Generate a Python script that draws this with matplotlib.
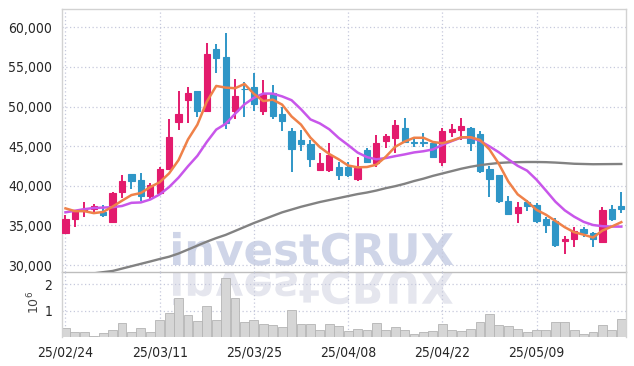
import matplotlib
matplotlib.use("Agg")
import matplotlib.pyplot as plt
import numpy as np
from matplotlib import font_manager as fm
from matplotlib.textpath import TextPath
from matplotlib.patches import PathPatch
from matplotlib.font_manager import FontProperties
from matplotlib.transforms import Affine2D, IdentityTransform

# trading days (yy/mm/dd)
dates = ["25/02/24", "25/02/25", "25/02/26", "25/02/27", "25/02/28", "25/03/04", "25/03/05", "25/03/06", "25/03/07", "25/03/10",
         "25/03/11", "25/03/12", "25/03/13", "25/03/14", "25/03/17", "25/03/18", "25/03/19", "25/03/20", "25/03/21", "25/03/24",
         "25/03/25", "25/03/26", "25/03/27", "25/03/28", "25/03/31", "25/04/01", "25/04/02", "25/04/03", "25/04/04", "25/04/07",
         "25/04/08", "25/04/09", "25/04/10", "25/04/11", "25/04/14", "25/04/15", "25/04/16", "25/04/17", "25/04/18", "25/04/21",
         "25/04/22", "25/04/23", "25/04/24", "25/04/25", "25/04/28", "25/04/29", "25/04/30", "25/05/02", "25/05/07", "25/05/08",
         "25/05/09", "25/05/12", "25/05/13", "25/05/14", "25/05/15", "25/05/16", "25/05/19", "25/05/20", "25/05/21", "25/05/22"]

opens = [34000, 35750, 36800, 37110, 36730, 35470, 39250, 41490, 40730, 38750,
         39050, 42070, 48090, 50820, 51960, 49400, 57260, 56250, 49480, 52200,
         52470, 49480, 51700, 49060, 46910, 45780, 45310, 42030, 41950, 42410,
         42410, 40900, 44510, 42830, 45690, 45990, 47330, 45480, 45480, 45360,
         43040, 46830, 47040, 47330, 46530, 42070, 41360, 38080, 36520, 37990,
         37570, 35810, 35550, 33030, 33280, 34540, 34000, 32950, 37070, 37450]
highs = [36300, 37000, 38000, 37700, 37570, 39200, 41350, 41500, 41570, 40390,
         42400, 48400, 52000, 52420, 51960, 58000, 57850, 59240, 53430, 53050,
         54190, 53300, 52720, 49980, 47250, 47040, 45780, 44090, 45440, 43040,
         43040, 43670, 44810, 46410, 46530, 48300, 48510, 46000, 46620, 45500,
         47250, 47800, 48510, 47460, 46910, 42540, 41360, 38710, 37990, 38200,
         37780, 36020, 35930, 33660, 34750, 34750, 34200, 37280, 37570, 39260]
lows = [34000, 34750, 36000, 36450, 36020, 35400, 38400, 39550, 38080, 38200,
        39000, 42000, 47100, 47880, 48720, 49300, 54190, 47120, 48470, 48720,
        49390, 48970, 48380, 46870, 41780, 44430, 42410, 41900, 41780, 40730,
        41060, 40560, 42830, 42330, 44720, 44180, 45570, 44850, 44940, 43590,
        42540, 46110, 45780, 44390, 41570, 38540, 37870, 36310, 35260, 36860,
        35260, 34080, 32310, 31350, 32310, 33490, 32310, 32950, 35600, 36520]
closes = [35800, 36800, 37100, 37450, 36310, 39130, 40600, 40640, 38750, 40100,
          42150, 46200, 49015, 51710, 49480, 56630, 56170, 47960, 51330, 52170,
          50360, 51620, 48850, 48220, 44680, 45230, 43420, 42830, 43880, 41320,
          41360, 42240, 43040, 45360, 46280, 47670, 45570, 45400, 45400, 43590,
          46910, 47160, 47540, 45440, 41900, 40900, 38080, 36440, 37280, 37450,
          35550, 35050, 32520, 33280, 34290, 34000, 33240, 36940, 35810, 37070]

ma5 = [37150, 36800, 36800, 36550, 36700, 37370, 38120, 38830, 39090, 39840,
       40450, 41570, 43240, 45840, 47710, 50610, 52600, 52390, 52310, 52850,
       51600, 50690, 50870, 50240, 48750, 47720, 46080, 44880, 44010, 43340,
       42560, 42330, 42370, 42660, 43660, 44920, 45580, 46060, 46060, 45530,
       45370, 45690, 46120, 46130, 45790, 44590, 42770, 40550, 38920, 38030,
       36960, 36350, 35570, 34770, 34140, 33830, 33470, 34350, 34860, 35410]
ma10 = [36650, 36850, 37050, 37200, 37250, 37300, 37450, 37850, 37900, 38270,
        38910, 39840, 41030, 42460, 43780, 45530, 47090, 47820, 49080, 50280,
        51100, 51640, 51630, 51280, 50800, 49660, 48380, 47870, 47130, 46040,
        45140, 44200, 43620, 43340, 43500, 43740, 43960, 44210, 44360, 44590,
        45150, 45640, 46090, 46100, 45660, 44980, 44230, 43340, 42520, 41910,
        40770, 39400, 38000, 36900, 36100, 35450, 35050, 34900, 34850, 34850]
ma_long = [28500, 28650, 28800, 28950, 29100, 29250, 29550, 29850, 30150, 30450,
           30760, 31050, 31450, 31950, 32450, 32950, 33400, 33800, 34300, 34800,
           35300, 35750, 36200, 36650, 37000, 37350, 37650, 37950, 38200, 38450,
           38700, 38950, 39150, 39400, 39700, 39950, 40250, 40600, 40900, 41250,
           41550, 41850, 42150, 42400, 42600, 42750, 42880, 42950, 42980, 43000,
           43000, 42980, 42930, 42860, 42780, 42750, 42720, 42730, 42740, 42750]

volume_m = [0.36, 0.18, 0.18, 0.05, 0.14, 0.28, 0.52, 0.18, 0.36, 0.18,
            0.66, 0.92, 1.49, 0.85, 0.62, 1.17, 0.66, 2.24, 1.49, 0.58,
            0.66, 0.51, 0.44, 0.39, 1.04, 0.48, 0.48, 0.28, 0.48, 0.40,
            0.22, 0.32, 0.25, 0.52, 0.25, 0.39, 0.25, 0.12, 0.18, 0.22,
            0.48, 0.25, 0.22, 0.32, 0.58, 0.86, 0.44, 0.40, 0.32, 0.18,
            0.28, 0.25, 0.58, 0.58, 0.28, 0.12, 0.18, 0.44, 0.25, 0.70]

price_ticks = [30000, 35000, 40000, 45000, 50000, 55000, 60000]
date_ticks = [0, 10, 20, 30, 40, 50]

UP = '#e31b6d'
DOWN = '#2f96c7'
GRID = '#c6c9dc'
TXT = '#262626'

# narrow font for tick labels if one is installed
names = {f.name for f in fm.fontManager.ttflist}
cond = [f for f in fm.fontManager.ttflist if f.name == 'DejaVu Sans' and 'ondensed' in f.fname and 'Bold' not in f.fname and 'Oblique' not in f.fname]
if 'Liberation Sans Narrow' in names:
    tick_font = FontProperties(family='Liberation Sans Narrow', size=11)
elif cond:
    tick_font = FontProperties(fname=cond[0].fname, size=10)
else:
    tick_font = FontProperties(family='Liberation Sans', size=10)

fig = plt.figure(figsize=(6.34, 3.66), dpi=100)
fig.patch.set_facecolor('white')

# watermark + reflection, drawn in pixel space under the axes
fp = FontProperties(family='DejaVu Sans', weight='bold')
tp = TextPath((0, 0), 'investCRUX', size=43.5, prop=fp)
x0 = 173 - tp.get_extents().x0
wm = PathPatch(tp, transform=Affine2D().translate(x0, 101) + IdentityTransform(),
               facecolor='#cfd5e8', edgecolor='none', zorder=-2)
wm_ref = PathPatch(tp, transform=Affine2D().scale(1, -1).translate(x0, 94) + IdentityTransform(),
                   facecolor='#e5e6ee', edgecolor='none', zorder=-2)
fig.add_artist(wm)
fig.add_artist(wm_ref)

ax = fig.add_axes([62 / 634, 1 - 272 / 366, 564 / 634, 263 / 366])
axv = fig.add_axes([62 / 634, 1 - 337 / 366, 564 / 634, 65 / 366], sharex=ax)
for a in (ax, axv):
    a.set_facecolor('none')
    for s in a.spines.values():
        s.set_color('#d2d2d2')
        s.set_linewidth(1.0)
    a.tick_params(length=0, colors=TXT)
    a.grid(True, color=GRID, linestyle=(0, (1, 2)), linewidth=0.9)
    a.set_axisbelow(True)
ax.spines['bottom'].set_color('#bdbdbd')
axv.spines['top'].set_visible(False)
axv.spines['bottom'].set_visible(False)

x = np.arange(len(dates))
o = np.array(opens)
c = np.array(closes)
cols = [UP if cc >= oo else DOWN for oo, cc in zip(opens, closes)]
cols[19] = DOWN
cols[37] = DOWN
cols[38] = DOWN

ax.vlines(x, lows, highs, colors=cols, linewidth=1.4, zorder=2)
ax.bar(x, np.abs(c - o), bottom=np.minimum(o, c), width=0.66, color=cols,
       edgecolor=cols, linewidth=0.8, zorder=3)

ax.plot(x, ma_long, color='#828282', linewidth=1.7, zorder=4)
ax.plot(x, ma10, color='#c856ea', linewidth=1.8, zorder=4)
ax.plot(x, ma5, color='#ef8149', linewidth=1.8, zorder=5)

ax.set_xlim(-0.37, 59.5)
ax.set_ylim(29120, 62310)
ax.set_yticks(price_ticks)
ax.set_yticklabels([f'{v:,}' for v in price_ticks], fontproperties=tick_font, color=TXT)
ax.set_xticks(date_ticks)
ax.tick_params(axis='x', labelbottom=False)
ax.tick_params(axis='y', pad=7)

axv.bar(x, volume_m, width=0.94, color='#d6d6d6', edgecolor='#b4b4b4', linewidth=0.6, zorder=2)
axv.set_ylim(0, 2.47)
axv.set_yticks([1, 2])
axv.set_yticklabels(['1', '2'], fontproperties=tick_font, color=TXT)
axv.set_xticks(date_ticks)
axv.set_xticklabels([dates[i] for i in date_ticks], fontproperties=tick_font, color=TXT)
axv.tick_params(axis='y', pad=7)
axv.tick_params(axis='x', pad=6)
fig.text(34 / 634, 1 - 302 / 366, r'$10^{6}$', rotation=90, ha='center', va='center',
         fontsize=9, color='#444444')

fig.savefig('out.png', dpi=100)
